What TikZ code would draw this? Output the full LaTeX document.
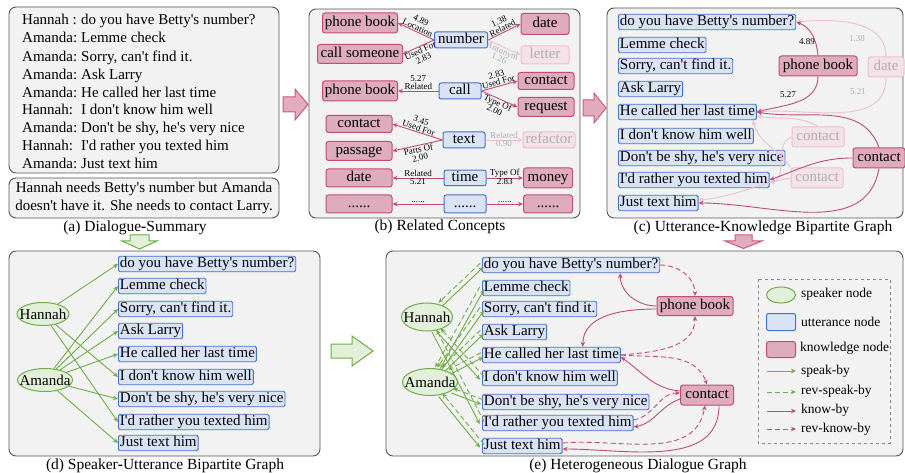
\documentclass[tikz,border=0pt]{standalone}
\usepackage{fontspec}
\setmainfont{Liberation Serif}[Ligatures=TeXOff]
\usetikzlibrary{arrows.meta,shapes.geometric,calc}
\definecolor{pinkfill}{RGB}{222,172,188}
\definecolor{pinkline}{RGB}{193,77,114}
\definecolor{fadefill}{RGB}{243,226,232}
\definecolor{fadeline}{RGB}{236,192,207}
\definecolor{fadetext}{RGB}{175,175,175}
\definecolor{bluefill}{RGB}{218,227,245}
\definecolor{blueline}{RGB}{68,114,196}
\definecolor{greenfill}{RGB}{226,239,217}
\definecolor{greenline}{RGB}{112,173,71}
\definecolor{panelbg}{RGB}{242,242,242}
\definecolor{panelline}{RGB}{85,85,85}
\definecolor{arrfill}{RGB}{226,172,190}
\definecolor{arrline}{RGB}{200,90,125}
\newcommand\ftxt{\fontsize{15}{18}\selectfont}
\newcommand\flbl{\fontsize{9}{8}\selectfont}
\newcommand\fcap{\fontsize{15.5}{18}\selectfont}
\newcommand\fleg{\fontsize{13.5}{16}\selectfont}
\tikzset{
 panel/.style={draw=panelline, fill=panelbg, rounded corners=7pt, line width=0.9pt},
 atxt/.style={font=\ftxt, anchor=west, inner sep=0pt, text height=10.5pt, text depth=3pt},
 utt/.style={draw=blueline, fill=bluefill, rounded corners=1.5pt, line width=0.9pt, font=\ftxt, inner xsep=1.5pt, inner ysep=1pt, text height=10.5pt, text depth=3pt, anchor=west},
 bnode/.style={draw=blueline, fill=bluefill, rounded corners=2pt, line width=1pt, font=\ftxt, inner sep=1pt, text height=10.5pt, text depth=3pt},
 knode/.style={draw=pinkline, fill=pinkfill, rounded corners=2.5pt, line width=1pt, font=\ftxt, inner sep=1pt, text height=10.5pt, text depth=3pt},
 kfade/.style={draw=fadeline, fill=fadefill, text=fadetext, rounded corners=2.5pt, line width=1pt, font=\ftxt, inner sep=1pt, text height=10.5pt, text depth=3pt},
 spk/.style={ellipse, draw=greenline, fill=greenfill, line width=1pt, inner sep=0pt},
 kedge/.style={draw=pinkline, line width=0.9pt, -{Stealth[length=5pt,width=4.5pt]}},
 fedge/.style={draw=fadeline, line width=0.9pt, -{Stealth[length=5pt,width=4.5pt]}},
 gedge/.style={draw=greenline, line width=0.9pt, -{Stealth[length=5pt,width=4.5pt]}},
 gdash/.style={gedge, dash pattern=on 5pt off 3pt},
 kdash/.style={kedge, dash pattern=on 5pt off 3pt},
 lbl/.style={font=\flbl, inner sep=0.5pt, align=center, sloped},
 flbl/.style={lbl, text=fadetext},
 captxt/.style={font=\fcap, inner sep=0pt},
 legtxt/.style={font=\fleg, anchor=west, inner sep=0pt},
 parrow/.style={draw=arrline, fill=arrfill, line width=1pt},
 garrow/.style={draw=greenline, fill=greenfill, line width=1pt},
}
\newcommand\spkpair[2]{%
 \path (#1) -- (#2.west) coordinate[pos=0] (q0) coordinate[pos=1] (q1);
 \draw[gedge] ($(q0)!2.5pt!-90:(q1)$) -- ($(q1)!2.5pt!90:(q0)$);
 \draw[gdash] ($(q1)!2.5pt!-90:(q0)$) -- ($(q0)!2.5pt!90:(q1)$);
}
\begin{document}
\begin{tikzpicture}[x=1pt,y=1pt]
\useasboundingbox (0,0) rectangle (905,-473);
\fill[white] (0,0) rectangle (905,-473);

% ---------------- panel (a)
\draw[panel] (9,-7) rectangle (279,-173);
\node[atxt] (a1s) at (22,-21) {Hannah :};
\node[atxt] (a1u) at (81,-21) {do you have Betty's number?};
\node[atxt] (a2s) at (22,-39) {Amanda:};
\node[atxt] (a2u) at (81,-39) {Lemme check};
\node[atxt] (a3s) at (22,-58) {Amanda:};
\node[atxt] (a3u) at (81,-58) {Sorry, can't find it.};
\node[atxt] (a4s) at (22,-76) {Amanda:};
\node[atxt] (a4u) at (81,-76) {Ask Larry};
\node[atxt] (a5s) at (22,-94) {Amanda:};
\node[atxt] (a5u) at (81,-94) {He called her last time};
\node[atxt] (a6s) at (22,-111) {Hannah:};
\node[atxt] (a6u) at (81,-111) {I don't know him well};
\node[atxt] (a7s) at (22,-129) {Amanda:};
\node[atxt] (a7u) at (81,-129) {Don't be shy, he's very nice};
\node[atxt] (a8s) at (22,-147) {Hannah:};
\node[atxt] (a8u) at (81,-147) {I'd rather you texted him};
\node[atxt] (a9s) at (22,-165) {Amanda:};
\node[atxt] (a9u) at (81,-165) {Just text him};
\draw[panel] (9,-178) rectangle (279,-218);
\node[font=\ftxt, align=center, inner sep=0pt] (asum) at (144,-198) {Hannah needs Betty's number but Amanda\\doesn't have it. She needs to contact Larry.};
\node[captxt] (capa) at (135,-228) {(a) Dialogue\textbf{-}Summary};

% block arrows
\draw[garrow] (130,-235) -- (149,-235) -- (149,-241) -- (157,-241) -- (139.5,-249) -- (122,-241) -- (130,-241) -- cycle;
\draw[parrow] (283,-97) -- (295,-97) -- (295,-89) -- (308,-104.5) -- (295,-120) -- (295,-112) -- (283,-112) -- cycle;
\draw[parrow] (583,-100) -- (594,-100) -- (594,-93) -- (606,-108) -- (594,-123) -- (594,-116) -- (583,-116) -- cycle;
\draw[parrow] (735,-235) -- (752,-235) -- (752,-241) -- (762,-241) -- (743.5,-248.5) -- (725,-241) -- (735,-241) -- cycle;
\draw[garrow] (331,-344) -- (352,-344) -- (352,-336) -- (373,-351) -- (352,-366) -- (352,-358) -- (331,-358) -- cycle;

% ---------------- panel (b)
\draw[panel] (309,-9) rectangle (580,-218);
\node[knode, minimum width=75pt, minimum height=20pt] (pb1) at (360,-23) {phone book};
\node[knode, minimum width=85pt, minimum height=19pt] (cs) at (360,-54) {call someone};
\node[bnode, minimum width=53pt, minimum height=16pt] (num) at (461,-40) {number};
\node[knode, minimum width=48pt, minimum height=21pt] (dt1) at (545,-24) {date};
\node[kfade, minimum width=48pt, minimum height=18pt] (ltr) at (545,-55) {letter};
\node[knode, minimum width=75pt, minimum height=20pt] (pb2) at (360,-91) {phone book};
\node[bnode, minimum width=42pt, minimum height=16pt] (call) at (460,-91) {call};
\node[knode, minimum width=56pt, minimum height=17pt] (ct1) at (546,-81) {contact};
\node[knode, minimum width=56pt, minimum height=19pt] (req) at (546,-107) {request};
\node[knode, minimum width=66pt, minimum height=17pt] (ct2) at (359,-124) {contact};
\node[knode, minimum width=66pt, minimum height=19pt] (psg) at (359,-151) {passage};
\node[bnode, minimum width=42pt, minimum height=16pt] (txt) at (464,-140) {text};
\node[kfade, minimum width=52pt, minimum height=16pt] (rfc) at (549,-140) {refactor};
\node[knode, minimum width=66pt, minimum height=18pt] (dt2) at (359,-178) {date};
\node[bnode, minimum width=42pt, minimum height=15pt] (tim) at (465,-178) {time};
\node[knode, minimum width=49pt, minimum height=20pt] (mny) at (548,-178) {money};
\node[knode, minimum width=66pt, minimum height=18pt] (dl) at (359,-204) {......};
\node[bnode, minimum width=42pt, minimum height=18pt] (dm) at (465,-204) {......};
\node[knode, minimum width=49pt, minimum height=18pt] (dr) at (548,-204) {......};

\draw[kedge] (num.west) -- (pb1.east) node[lbl, midway, above] {4.89\\Location};
\draw[kedge] (num.west) -- (cs.east) node[lbl, midway, below] {Used For\\2.83};
\draw[kedge] (num.east) -- (dt1.west) node[lbl, midway, above] {1.38\\Related};
\draw[fedge] (num.east) -- (ltr.west) node[flbl, midway, below] {Antonym\\1.26};
\draw[kedge] (call.west) -- (pb2.east) node[lbl, midway, above] {5.27\\Related};
\draw[kedge] (call.east) -- (ct1.west) node[lbl, midway, above] {2.83\\Used For};
\draw[kedge] (call.east) -- (req.west) node[lbl, midway, below] {Type Of\\2.00};
\draw[kedge] (txt.west) -- (ct2.east) node[lbl, midway, above] {3.45\\Used For};
\draw[kedge] (txt.west) -- (psg.east) node[lbl, midway, below] {Parts Of\\2.00};
\draw[fedge] (txt.east) -- (rfc.west) node[flbl, midway, above] {Related} node[flbl, midway, below] {0.90};
\draw[kedge] (tim.west) -- (dt2.east) node[lbl, midway, above] {Related} node[lbl, midway, below] {5.21};
\draw[kedge] (tim.east) -- (mny.west) node[lbl, midway, above] {Type Of} node[lbl, midway, below] {2.83};
\draw[kedge] (dm.west) -- (dl.east) node[lbl, midway, above] {......};
\draw[kedge] (dm.east) -- (dr.west) node[lbl, midway, above] {......};
\node[captxt] (capb) at (440,-227) {(b) Related Concepts};

% ---------------- panel (c)
\draw[panel] (607,-8) rectangle (903,-218);
\node[utt] (c1) at (618,-22) {do you have Betty's number?};
\node[utt] (c2) at (618,-45) {Lemme check};
\node[utt] (c3) at (618,-66) {Sorry, can't find it.};
\node[utt] (c4) at (618,-89) {Ask Larry};
\node[utt] (c5) at (618,-112) {He called her last time};
\node[utt] (c6) at (618,-136) {I don't know him well};
\node[utt] (c7) at (618,-158) {Don't be shy, he's very nice};
\node[utt] (c8) at (618,-180) {I'd rather you texted him};
\node[utt] (c9) at (618,-203) {Just text him};
\node[kfade, minimum width=36pt, minimum height=20pt] (cdt) at (886,-67) {date};
\node[kfade, minimum width=52pt, minimum height=20pt] (cf1) at (818,-137) {contact};
\node[kfade, minimum width=52pt, minimum height=20pt] (cf2) at (817,-178) {contact};
\draw[fedge] (cdt.north) to[out=90,in=5] (c1.east);
\draw[fedge] (cdt.south) to[out=-90,in=5] (c5.east);
\draw[fedge] (cf1.north) to[out=150,in=-10] ([yshift=-4]c5.east);
\draw[fedge] (cf1.west) to[out=200,in=15] ([yshift=-3]c8.east);
\draw[fedge] (cf2.north west) to[out=125,in=-75] ([xshift=-4]c5.south east);
\draw[fedge] (cf2.west) to[out=190,in=5] ([yshift=3]c9.east);
\node[font=\flbl, text=fadetext] (l138) at (857,-39) {1.38};
\node[font=\flbl, text=fadetext] (l521) at (858,-92) {5.21};
\node[knode, minimum width=78pt, minimum height=20pt] (cpb) at (818,-66) {phone book};
\node[knode, minimum width=52pt, minimum height=20pt] (cct) at (879,-158) {contact};
\draw[kedge] (cpb.north) to[out=95,in=-20] (c1.east);
\draw[kedge] (cpb.south) to[out=-90,in=15] (c5.east);
\draw[kedge] (cct.north) to[out=110,in=-10] (c5.east);
\draw[kedge] (cct.west) to[out=180,in=20] (c8.east);
\draw[kedge] (cct.south) to[out=-100,in=0] (c9.east);
\node[font=\flbl] (l489) at (807,-42) {4.89};
\node[font=\flbl] (l527) at (788,-95) {5.27};
\node[captxt] (capc) at (763,-228) {(c) Utterance\textbf{-}Knowledge Bipartite Graph};

% ---------------- panel (d)
\draw[panel] (9,-251) rectangle (320,-456);
\node[utt] (d1) at (118,-264) {do you have Betty's number?};
\node[utt] (d2) at (118,-286) {Lemme check};
\node[utt] (d3) at (118,-309) {Sorry, can't find it.};
\node[utt] (d4) at (118,-331) {Ask Larry};
\node[utt] (d5) at (118,-354) {He called her last time};
\node[utt] (d6) at (118,-377) {I don't know him well};
\node[utt] (d7) at (118,-399) {Don't be shy, he's very nice};
\node[utt] (d8) at (118,-422) {I'd rather you texted him};
\node[utt] (d9) at (118,-443) {Just text him};
\node[spk, minimum width=52pt, minimum height=23pt] (dH) at (43,-314) {};
\node[font=\ftxt, inner sep=0pt] (dHt) at (dH) {Hannah};
\node[spk, minimum width=55pt, minimum height=23pt] (dA) at (45,-380) {};
\node[font=\ftxt, inner sep=0pt] (dAt) at (dA) {Amanda};
\foreach \u in {1,6,8} {\draw[gedge] (dH) -- (d\u.west);}
\foreach \u in {2,3,4,5,7,9} {\draw[gedge] (dA) -- (d\u.west);}
\node[captxt] (capd) at (165,-466) {(d) Speaker\textbf{-}Utterance Bipartite Graph};

% ---------------- panel (e)
\draw[panel] (386,-251) rectangle (903,-456);
\node[utt] (e1) at (482,-265) {do you have Betty's number?};
\node[utt] (e2) at (482,-288) {Lemme check};
\node[utt] (e3) at (482,-309) {Sorry, can't find it.};
\node[utt] (e4) at (482,-332) {Ask Larry};
\node[utt] (e5) at (482,-355) {He called her last time};
\node[utt] (e6) at (482,-378) {I don't know him well};
\node[utt] (e7) at (482,-402) {Don't be shy, he's very nice};
\node[utt] (e8) at (482,-423) {I'd rather you texted him};
\node[utt] (e9) at (482,-446) {Just text him};
\node[spk, minimum width=51pt, minimum height=28pt] (eH) at (427,-317) {};
\node[font=\ftxt, inner sep=0pt] (eHt) at (eH) {Hannah};
\node[spk, minimum width=55pt, minimum height=27pt] (eA) at (430,-382) {};
\node[font=\ftxt, inner sep=0pt] (eAt) at (eA) {Amanda};
\foreach \u in {1,6,8} {\spkpair{eH}{e\u}}
\foreach \u in {2,3,4,5,7,9} {\spkpair{eA}{e\u}}
\node[knode, minimum width=76pt, minimum height=19pt] (epb) at (695,-306) {phone book};
\node[knode, minimum width=53pt, minimum height=20pt] (ect) at (707,-395) {contact};
\draw[kedge] (epb.west) to[out=180,in=-90] ($(e1.south east)+(-40,0)$);
\draw[kdash] (e1.east) to[out=0,in=90] (epb.north);
\draw[kedge] ([yshift=-3]epb.west) to[out=180,in=90] ($(e5.north east)+(-38,0)$);
\draw[kdash] (e5.east) to[out=5,in=-90] (epb.south);
\draw[kedge] ([yshift=4]ect.west) to[out=175,in=-35] ([yshift=-2]e5.east);
\draw[kdash] (e5.east) to[out=-5,in=110] (ect.north);
\draw[kedge] ([yshift=-4]ect.west) to[out=200,in=10] ([yshift=-4]e8.east);
\draw[kdash] ([yshift=3]e8.east) to[out=10,in=180] ([yshift=2]ect.west);
\draw[kdash] ([yshift=3]e9.east) to[out=5,in=-100] ([xshift=-2]ect.south);
\draw[kedge] ([xshift=12]ect.south) to[out=-90,in=0] ([yshift=-3]e9.east);
% legend
\draw[panelline!70, dashed, line width=0.6pt] (758,-279) rectangle (890,-443);
\node[spk, minimum width=29pt, minimum height=16pt] (lg1) at (781,-295) {};
\node[legtxt] (lt1) at (801,-294) {speaker node};
\node[draw=blueline, fill=bluefill, rounded corners=2pt, line width=1pt, minimum width=29pt, minimum height=17pt, inner sep=0pt] (lg2) at (781,-322) {};
\node[legtxt] (lt2) at (801,-322) {utterance node};
\node[draw=pinkline, fill=pinkfill, rounded corners=2.5pt, line width=1pt, minimum width=29pt, minimum height=16pt, inner sep=0pt] (lg3) at (781,-349.5) {};
\node[legtxt] (lt3) at (800,-348) {knowledge node};
\coordinate (la1) at (767,-371); \coordinate (lb1) at (796,-371);
\coordinate (la2) at (767,-392); \coordinate (lb2) at (796,-392);
\coordinate (la3) at (767,-411); \coordinate (lb3) at (796,-411);
\coordinate (la4) at (767,-429); \coordinate (lb4) at (796,-429);
\draw[gedge] (la1) -- (lb1);
\draw[gdash] (la2) -- (lb2);
\draw[kedge] (la3) -- (lb3);
\draw[kdash] (la4) -- (lb4);
\node[legtxt] (lt4) at (801,-371) {speak-by};
\node[legtxt] (lt5) at (801,-391) {rev-speak-by};
\node[legtxt] (lt6) at (801,-410) {know-by};
\node[legtxt] (lt7) at (801,-429) {rev-know-by};
\node[captxt] (cape) at (638,-466) {(e) Heterogeneous Dialogue Graph};
\end{tikzpicture}
\end{document}
